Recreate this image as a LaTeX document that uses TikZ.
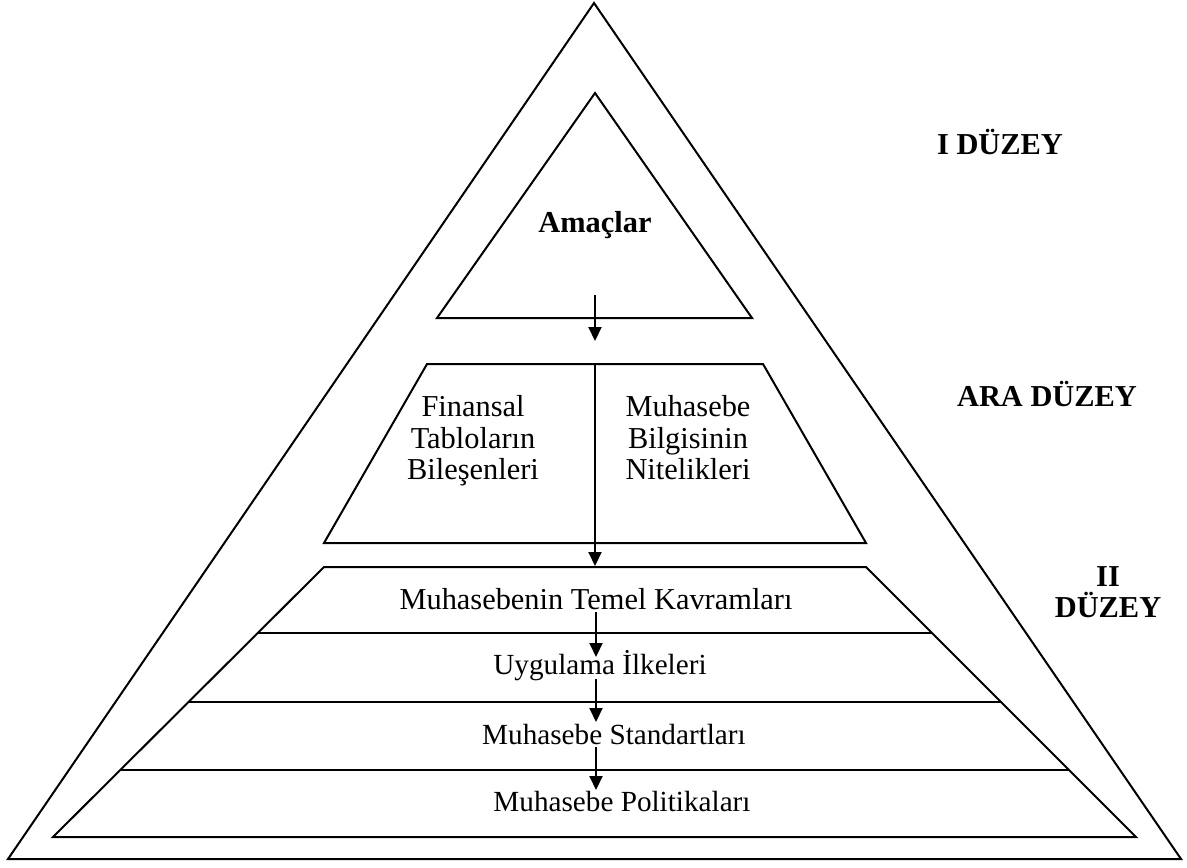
\documentclass[tikz,border=0pt]{standalone}
\usepackage{fontspec}
\setmainfont{Liberation Serif}
\usetikzlibrary{arrows.meta}
\begin{document}
\begin{tikzpicture}[x=0.5pt,y=-0.5pt,
  edge/.style={line width=1pt,line join=miter},
  flow/.style={line width=1pt,-{Triangle[length=7pt,width=6.5pt]}},
  txt/.style={font=\fontsize{15.2}{15.8}\selectfont,inner sep=0pt,align=center},
  txts/.style={font=\fontsize{14.6}{15.8}\selectfont,inner sep=0pt,align=center},
  lvl/.style={font=\fontsize{15.2}{15.5}\selectfont\bfseries,inner sep=0pt,align=center}]
\useasboundingbox (0,0) rectangle (1187,867);
% outer triangle
\coordinate (oA) at (594,3);
\coordinate (oL) at (8,859);
\coordinate (oR) at (1181,859);
\draw[edge] (oA) -- (oL) -- (oR) -- cycle;
% top triangle
\coordinate (tA) at (595,93);
\coordinate (tL) at (437,318);
\coordinate (tR) at (752,318);
\draw[edge] (tA) -- (tL) -- (tR) -- cycle;
% middle trapezoid
\coordinate (mTL) at (427,364);
\coordinate (mTR) at (763,364);
\coordinate (mBR) at (866,543);
\coordinate (mBL) at (324,543);
\draw[edge] (mTL) -- (mTR) -- (mBR) -- (mBL) -- cycle;
% bottom stack
\coordinate (sTL) at (324,567);
\coordinate (sTR) at (866,567);
\coordinate (sBR) at (1136,837);
\coordinate (sBL) at (53,837);
\draw[edge] (sTL) -- (sTR) -- (sBR) -- (sBL) -- cycle;
\draw[edge] (258,633) -- (932,633);
\draw[edge] (189,702) -- (1001,702);
\draw[edge] (121,770) -- (1069,770);
% texts
\node[lvl] (amac) at (595,225) {Amaçlar};
\node[lvl] (l1) at (1000,142) {I DÜZEY};
\node[lvl] (l2) at (1047,394) {ARA DÜZEY};
\node[lvl] (l3) at (1108,592) {II\\DÜZEY};
\node[txt] (fin) at (473,442) {\strut Finansal\\\strut Tabloların\\\strut Bileşenleri};
\node[txt] (muh) at (688,442) {\strut Muhasebe\\\strut Bilgisinin\\\strut Nitelikleri};
\node[txt] (t1) at (596,599) {Muhasebenin Temel Kavramları};
\node[txts] (t2) at (600,666) {Uygulama İlkeleri};
\node[txts] (t3) at (614,734) {Muhasebe Standartları};
\node[txts] (t4) at (622,801) {Muhasebe Politikaları};
% arrows
\coordinate (a1s) at (595,295);
\coordinate (a1e) at (595,341);
\coordinate (a2s) at (595,364);
\coordinate (a2e) at (595,566);
\coordinate (a3s) at (596,612);
\coordinate (a3e) at (596,657);
\coordinate (a4s) at (596,679);
\coordinate (a4e) at (596,722);
\coordinate (a5s) at (596,747);
\coordinate (a5e) at (596,790);
\draw[flow] (a1s) -- (a1e);
\draw[flow] (a2s) -- (a2e);
\draw[flow] (a3s) -- (a3e);
\draw[flow] (a4s) -- (a4e);
\draw[flow] (a5s) -- (a5e);
\end{tikzpicture}
\end{document}
